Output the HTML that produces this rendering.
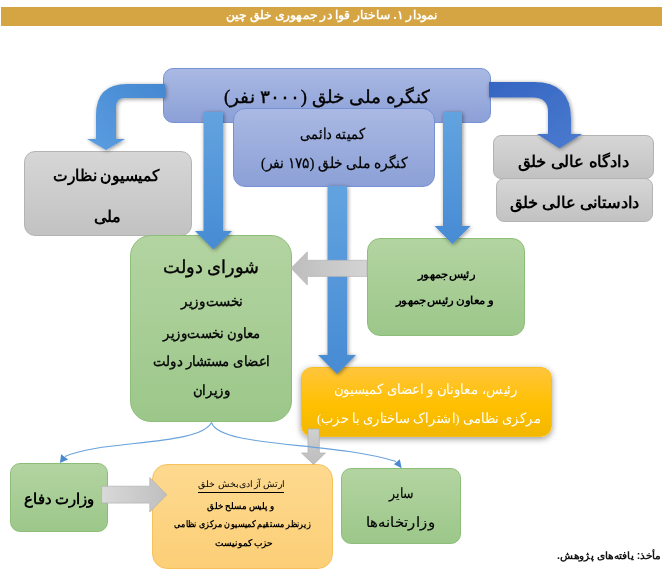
<!DOCTYPE html>
<html lang="fa" dir="rtl">
<head>
<meta charset="utf-8">
<style>
html,body{margin:0;padding:0;background:#fff;}
body{width:665px;height:572px;position:relative;overflow:hidden;font-family:"Liberation Serif",serif;color:#000;}
.abs{position:absolute;}
.box{position:absolute;box-sizing:border-box;display:flex;flex-direction:column;align-items:center;justify-content:center;text-align:center;white-space:nowrap;}
.t{position:absolute;white-space:nowrap;transform:translate(-50%,-50%);line-height:1;}
#title{position:absolute;left:1px;top:7px;width:661px;height:19px;background:#D5A443;}
#title span{position:absolute;right:227px;top:1px;color:#fff;font-family:"Liberation Sans",sans-serif;font-weight:bold;font-size:14px;line-height:17px;}
.blue{background:linear-gradient(#AAB9E3,#8CA0D7);border:1px solid #7792D4;}
.gray{background:linear-gradient(#D6D6D6,#C2C2C2);border:1px solid #B3B3B3;}
.green{background:linear-gradient(#B3D4A1,#9CC78A);border:1px solid #8DBE79;}
svg{position:absolute;left:0;top:0;overflow:visible;}
</style>
</head>
<body>
<div id="title"></div>

<!-- curved arrows (behind top box) -->
<svg width="665" height="572" style="z-index:3">
  <defs>
    <linearGradient id="gL" x1="1" y1="0" x2="0" y2="1">
      <stop offset="0" stop-color="#4488D2"/>
      <stop offset="1" stop-color="#5C9DE0"/>
    </linearGradient>
    <linearGradient id="gR" x1="0" y1="0" x2="1" y2="1">
      <stop offset="0" stop-color="#3465C2"/>
      <stop offset="1" stop-color="#4B7BCF"/>
    </linearGradient>
    <filter id="sh" x="-50%" y="-20%" width="200%" height="140%">
      <feGaussianBlur in="SourceAlpha" stdDeviation="2.2"/>
      <feOffset dx="1" dy="1" result="b"/>
      <feComponentTransfer><feFuncA type="linear" slope="0.45"/></feComponentTransfer>
      <feMerge><feMergeNode/><feMergeNode in="SourceGraphic"/></feMerge>
    </filter>
  </defs>
  <!-- left curved arrow -->
  <path filter="url(#sh)" fill="url(#gL)" d="M165,84 L127,84 Q96,84 96,115 L96,139 L87,139 L106,150 L125,139 L116,139 L116,107 Q116,98 125,98 L165,98 Z"/>
  <!-- right curved arrow -->
  <path filter="url(#sh)" fill="url(#gR)" d="M489,82 L534,82 Q571,82 571,119 L571,134 L582,134 L559.5,148.5 L537,134 L548,134 L548,112 Q548,97.5 533,97.5 L489,97.5 Z"/>
</svg>

<div class="box blue" style="left:163px;top:68px;width:328px;height:55px;border-radius:10px;z-index:2"></div>

<div class="box gray" style="left:24px;top:151px;width:168px;height:85px;border-radius:11px;z-index:2"></div>

<div class="box gray" style="left:493px;top:135px;width:161px;height:44px;border-radius:8px;z-index:2"></div>
<div class="box gray" style="left:496px;top:178px;width:157px;height:44px;border-radius:8px;z-index:2"></div>



<!-- vertical arrows from top box -->
<svg width="665" height="572" style="z-index:3">
  <defs>
    <linearGradient id="gV" x1="0" y1="0" x2="0" y2="1">
      <stop offset="0" stop-color="#62A3DF"/>
      <stop offset="1" stop-color="#478BD4"/>
    </linearGradient>
  </defs>
  <path filter="url(#sh)" fill="url(#gV)" d="M203.5,112 L223,112 L223,231 L232,231 L213.5,249.5 L195,231 L203.5,231 Z"/>
  <path filter="url(#sh)" fill="url(#gV)" d="M443,112 L462,112 L462,226 L470.5,226 L452.5,244 L434.5,226 L443,226 Z"/>
</svg>

<div class="box blue" style="left:233px;top:108px;width:202px;height:79px;border-radius:12px;z-index:4"></div>

<!-- green boxes -->
<div class="box green" style="left:130px;top:235px;width:162px;height:187px;border-radius:21px;z-index:2"></div>

<div class="box green" style="left:367px;top:238px;width:158px;height:98px;border-radius:13px;z-index:2"></div>

<!-- gray arrow president -> council -->
<svg width="665" height="572" style="z-index:7">
  <defs>
    <linearGradient id="gG" x1="1" y1="0" x2="0" y2="0">
      <stop offset="0" stop-color="#D4D4D4"/>
      <stop offset="1" stop-color="#BDBDBD"/>
    </linearGradient>
    <linearGradient id="gG2" x1="0" y1="0" x2="1" y2="0">
      <stop offset="0" stop-color="#D9D9D9"/>
      <stop offset="1" stop-color="#BFBFBF"/>
    </linearGradient>
    <linearGradient id="gG3" x1="0" y1="0" x2="0" y2="1">
      <stop offset="0" stop-color="#D0D0D0"/>
      <stop offset="1" stop-color="#BDBDBD"/>
    </linearGradient>
  </defs>
  <path fill="url(#gG)" d="M367,260.3 L307.3,260.3 L307.3,251.8 L291,268.3 L307.3,285 L307.3,276.4 L367,276.4 Z" stroke="#B5B5B5" stroke-width="0.7"/>
</svg>

<!-- committee vertical arrow -->
<svg width="665" height="572" style="z-index:6">
  <path filter="url(#sh)" fill="url(#gV)" d="M327.5,186 L347,186 L347,355 L356,355 L337,374 L318,355 L327.5,355 Z"/>
</svg>

<!-- yellow box -->
<div class="box" style="left:301px;top:367px;width:250.5px;height:70px;border-radius:11px;background:linear-gradient(#FFC53C,#FFC000 55%,#F2B700);border:1px solid #F9BF1E;box-shadow:0 2px 6px rgba(0,0,0,0.4);z-index:5"></div>

<!-- thin blue curves -->
<svg width="665" height="572" style="z-index:9">
  <path fill="none" stroke="#6AA3DC" stroke-width="1.1" d="M211.5,422.5 C200,446 100,440 65,456.5"/>
  <path fill="none" stroke="#6AA3DC" stroke-width="1.1" d="M211.5,422.5 C220,448 330,441 396,461.5"/>
  <path fill="#4A8BD0" d="M59.9,462.9 L61.1,454.2 L68.1,459.4 Z"/>
  <path fill="#4A8BD0" d="M401.7,468.2 L399.8,459.2 L393.9,464.3 Z"/>
</svg>

<!-- gray arrow down from yellow -->
<svg width="665" height="572" style="z-index:8">
  <path fill="url(#gG3)" d="M308,429 L319.3,429 L319.3,453 L325.5,453 L313.5,464.5 L301.5,453 L308,453 Z" stroke="#B0B0B0" stroke-width="0.7"/>
</svg>

<!-- bottom boxes -->
<div class="box green" style="left:10px;top:463px;width:98px;height:69px;border-radius:10px;z-index:2"></div>

<div class="box" style="left:152px;top:464px;width:181px;height:105px;border-radius:15px;background:linear-gradient(#FDD98F,#FCCF77);border:1px solid #F6C25C;z-index:2"></div>

<div class="box green" style="left:341px;top:468px;width:120px;height:76px;border-radius:10px;z-index:2"></div>

<!-- gray arrow defense -> army -->
<svg width="665" height="572" style="z-index:3">
  <path fill="url(#gG2)" d="M101.6,486.2 L149.8,486.2 L149.8,477.5 L166.8,494.7 L149.8,512.1 L149.8,503.1 L101.6,503.1 Z" stroke="#B0B0B0" stroke-width="0.7"/>
</svg>

<div style="position:absolute;left:225.97px;top:9.42px;font-size:12.3px;font-weight:bold;color:#fff;font-family:'Liberation Sans',sans-serif;line-height:1;white-space:nowrap;transform:scaleX(1.0234);transform-origin:0 0;z-index:3;">نمودار ۱. ساختار قوا در جمهوری خلق چین</div>
<div style="position:absolute;left:223.67px;top:88.10px;font-size:18px;font-weight:normal;color:#000;font-family:'Liberation Serif',sans-serif;line-height:1;white-space:nowrap;transform:scaleX(1.0307);transform-origin:0 0;z-index:5;-webkit-text-stroke:0.35px currentColor;">کنگره ملی خلق (۳۰۰۰ نفر)</div>
<div style="position:absolute;left:52.64px;top:167.99px;font-size:15.5px;font-weight:bold;color:#000;font-family:'Liberation Serif',sans-serif;line-height:1;white-space:nowrap;transform:scaleX(0.9707);transform-origin:0 0;z-index:5;">کمیسیون نظارت</div>
<div style="position:absolute;left:94.42px;top:208.86px;font-size:15.5px;font-weight:bold;color:#000;font-family:'Liberation Serif',sans-serif;line-height:1;white-space:nowrap;transform:scaleX(1.0078);transform-origin:0 0;z-index:5;">ملی</div>
<div style="position:absolute;left:517.82px;top:154.15px;font-size:15.5px;font-weight:bold;color:#000;font-family:'Liberation Serif',sans-serif;line-height:1;white-space:nowrap;transform:scaleX(1.0274);transform-origin:0 0;z-index:5;">دادگاه عالی خلق</div>
<div style="position:absolute;left:510.23px;top:195.39px;font-size:15.5px;font-weight:bold;color:#000;font-family:'Liberation Serif',sans-serif;line-height:1;white-space:nowrap;transform:scaleX(1.0164);transform-origin:0 0;z-index:5;">دادستانی عالی خلق</div>
<div style="position:absolute;left:300.17px;top:126.71px;font-size:15px;font-weight:normal;color:#000;font-family:'Liberation Serif',sans-serif;line-height:1;white-space:nowrap;transform:scaleX(0.8671);transform-origin:0 0;z-index:5;-webkit-text-stroke:0.25px currentColor;">کمیته دائمی</div>
<div style="position:absolute;left:260.50px;top:156.30px;font-size:15px;font-weight:normal;color:#000;font-family:'Liberation Serif',sans-serif;line-height:1;white-space:nowrap;transform:scaleX(0.9243);transform-origin:0 0;z-index:5;-webkit-text-stroke:0.25px currentColor;">کنگره ملی خلق (۱۷۵ نفر)</div>
<div style="position:absolute;left:163.31px;top:257.97px;font-size:18px;font-weight:normal;color:#000;font-family:'Liberation Serif',sans-serif;line-height:1;white-space:nowrap;transform:scaleX(0.9916);transform-origin:0 0;z-index:5;-webkit-text-stroke:0.35px currentColor;">شورای دولت</div>
<div style="position:absolute;left:181.22px;top:294.69px;font-size:13.5px;font-weight:normal;color:#000;font-family:'Liberation Serif',sans-serif;line-height:1;white-space:nowrap;transform:scaleX(0.9543);transform-origin:0 0;z-index:5;-webkit-text-stroke:0.35px currentColor;">نخست‌وزیر</div>
<div style="position:absolute;left:163.40px;top:326.71px;font-size:13.5px;font-weight:normal;color:#000;font-family:'Liberation Serif',sans-serif;line-height:1;white-space:nowrap;transform:scaleX(0.9385);transform-origin:0 0;z-index:5;-webkit-text-stroke:0.35px currentColor;">معاون نخست‌وزیر</div>
<div style="position:absolute;left:153.17px;top:355.31px;font-size:13.5px;font-weight:normal;color:#000;font-family:'Liberation Serif',sans-serif;line-height:1;white-space:nowrap;transform:scaleX(0.9467);transform-origin:0 0;z-index:5;-webkit-text-stroke:0.35px currentColor;">اعضای مستشار دولت</div>
<div style="position:absolute;left:192.86px;top:383.91px;font-size:13.5px;font-weight:normal;color:#000;font-family:'Liberation Serif',sans-serif;line-height:1;white-space:nowrap;transform:scaleX(0.9412);transform-origin:0 0;z-index:5;-webkit-text-stroke:0.35px currentColor;">وزیران</div>
<div style="position:absolute;left:417.95px;top:269.58px;font-size:10.5px;font-weight:bold;color:#000;font-family:'Liberation Serif',sans-serif;line-height:1;white-space:nowrap;transform:scaleX(1.0533);transform-origin:0 0;z-index:5;">رئیس‌جمهور</div>
<div style="position:absolute;left:396.13px;top:295.56px;font-size:10.5px;font-weight:bold;color:#000;font-family:'Liberation Serif',sans-serif;line-height:1;white-space:nowrap;transform:scaleX(1.0678);transform-origin:0 0;z-index:5;">و معاون رئیس‌جمهور</div>
<div style="position:absolute;left:334.06px;top:383.31px;font-size:13.5px;font-weight:normal;color:#fff;font-family:'Liberation Serif',sans-serif;line-height:1;white-space:nowrap;transform:scaleX(0.9497);transform-origin:0 0;z-index:7;">رئیس، معاونان و اعضای کمیسیون</div>
<div style="position:absolute;left:316.60px;top:411.91px;font-size:13.5px;font-weight:normal;color:#fff;font-family:'Liberation Serif',sans-serif;line-height:1;white-space:nowrap;transform:scaleX(0.9303);transform-origin:0 0;z-index:7;">مرکزی نظامی (اشتراک ساختاری با حزب)</div>
<div style="position:absolute;left:24.06px;top:491.78px;font-size:15px;font-weight:bold;color:#000;font-family:'Liberation Serif',sans-serif;line-height:1;white-space:nowrap;transform:scaleX(0.9860);transform-origin:0 0;z-index:5;">وزارت دفاع</div>
<div style="position:absolute;left:198.31px;top:480.21px;font-size:9px;font-weight:normal;color:#000;font-family:'Liberation Serif',sans-serif;line-height:1;white-space:nowrap;transform:scaleX(1.0444);transform-origin:0 0;z-index:5;">ارتش آزادی‌بخش خلق</div>
<div style="position:absolute;left:207.18px;top:501.62px;font-size:9px;font-weight:bold;color:#000;font-family:'Liberation Serif',sans-serif;line-height:1;white-space:nowrap;transform:scaleX(0.9586);transform-origin:0 0;z-index:5;">و پلیس مسلح خلق</div>
<div style="position:absolute;left:174.00px;top:520.33px;font-size:9px;font-weight:bold;color:#000;font-family:'Liberation Serif',sans-serif;line-height:1;white-space:nowrap;transform:scaleX(0.8899);transform-origin:0 0;z-index:5;">زیرنظر مستقیم کمیسیون مرکزی نظامی</div>
<div style="position:absolute;left:214.76px;top:539.33px;font-size:9px;font-weight:bold;color:#000;font-family:'Liberation Serif',sans-serif;line-height:1;white-space:nowrap;transform:scaleX(0.9948);transform-origin:0 0;z-index:5;">حزب کمونیست</div>
<div style="position:absolute;left:389.20px;top:486.62px;font-size:14px;font-weight:normal;color:#000;font-family:'Liberation Serif',sans-serif;line-height:1;white-space:nowrap;transform:scaleX(0.8996);transform-origin:0 0;z-index:5;-webkit-text-stroke:0.15px currentColor;">سایر</div>
<div style="position:absolute;left:366.30px;top:516.43px;font-size:14px;font-weight:normal;color:#000;font-family:'Liberation Serif',sans-serif;line-height:1;white-space:nowrap;transform:scaleX(1.0618);transform-origin:0 0;z-index:5;-webkit-text-stroke:0.15px currentColor;">وزارتخانه‌ها</div>
<div style="position:absolute;left:556.81px;top:551.47px;font-size:10px;font-weight:bold;color:#111;font-family:'Liberation Sans',sans-serif;line-height:1;white-space:nowrap;transform:scaleX(1.0584);transform-origin:0 0;z-index:5;">مأخذ: یافته‌های پژوهش.</div>
<div style="position:absolute;left:198px;top:492px;width:86px;height:1px;background:#000;z-index:5"></div>
</body>
</html>
